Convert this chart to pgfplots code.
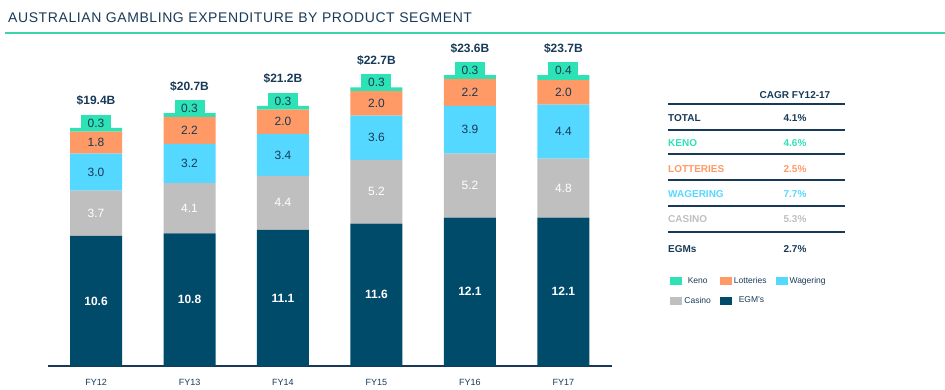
\documentclass[border=0pt]{standalone}
\usepackage{fontspec}
\setmainfont{Liberation Sans}
\newfontfamily\titlefont[LetterSpace=4.2]{Liberation Sans}
\usepackage{pgfplots}
\usepackage{pgfplotstable}
\pgfplotsset{compat=1.18}
\definecolor{egm}{RGB}{0,74,106}
\definecolor{casino}{RGB}{191,191,191}
\definecolor{wager}{RGB}{85,216,255}
\definecolor{lotto}{RGB}{255,153,102}
\definecolor{keno}{RGB}{45,226,180}
\definecolor{navy}{RGB}{24,58,88}
\definecolor{teal}{RGB}{60,212,172}
\pgfplotstableread{
x egm casino wager lotto keno tot
0 10.6 3.7 3.0 1.8 0.3 19.4
1 10.8 4.1 3.2 2.2 0.3 20.7
2 11.1 4.4 3.4 2.0 0.3 21.2
3 11.6 5.2 3.6 2.0 0.3 22.7
4 12.1 5.2 3.9 2.2 0.3 23.6
5 12.1 4.8 4.4 2.0 0.4 23.7
}\data
\pgfplotsset{
  common/.style={at={(48pt,23pt)}, anchor=south west,
    scale only axis, width=564pt, height=326pt,
    ymin=0, ymax=26.57, xmin=-0.514, xmax=5.52},
  lbl/.style={draw=none, mark=none, nodes near coords, point meta=explicit,
    nodes near coords={\pgfmathprintnumber[fixed,fixed zerofill,precision=1,assume math mode=true]{\pgfplotspointmeta}},
    every node near coord/.append style={anchor=center, font=\fontsize{12}{14}\selectfont, text=#1}},
}
\begin{document}
\begin{tikzpicture}
\path[use as bounding box] (0,0) rectangle (945pt,389pt);
\node[anchor=west, text=navy, font=\titlefont\fontsize{14}{16}\selectfont, inner sep=0pt] at (8pt,371pt) {AUSTRALIAN GAMBLING EXPENDITURE BY PRODUCT SEGMENT};
\draw[teal, line width=1.5pt] (5pt,356pt) -- (945pt,356pt);
\begin{axis}[
  common,
  ybar stacked, bar width=52pt,
  hide y axis, axis x line*=bottom,
  x axis line style={draw=navy, line width=1.2pt, -},
  xtick=data, xticklabels={FY12,FY13,FY14,FY15,FY16,FY17},
  major tick length=0pt,
  xticklabel style={font=\fontsize{9}{10}\selectfont, text=navy, yshift=-10pt},
  legend columns=3, reverse legend,
  legend style={draw=none, fill=none, at={(axis description cs:1.098,0.285)}, anchor=north west,
    font=\fontsize{8.5}{9}\selectfont, text=navy, row sep=8pt,
    /tikz/every even column/.append style={column sep=7pt}},
]
\addplot[fill=egm, draw=none,
  legend image code/.code={\fill[egm] (0pt,-4pt) rectangle (12pt,4pt);}] table[x=x,y=egm] {\data};
\addlegendentry{\ EGM's}
\addplot[fill=casino, draw=none,
  legend image code/.code={\fill[casino] (0pt,-4pt) rectangle (12pt,4pt);}] table[x=x,y=casino] {\data};
\addlegendentry{Casino}
\addplot[fill=wager, draw=none,
  legend image code/.code={\fill[wager] (0pt,-4pt) rectangle (12pt,4pt);}] table[x=x,y=wager] {\data};
\addlegendentry{Wagering}
\addplot[fill=lotto, draw=none,
  legend image code/.code={\fill[lotto] (0pt,-4pt) rectangle (12pt,4pt);}] table[x=x,y=lotto] {\data};
\addlegendentry{Lotteries}
\addplot[fill=keno, draw=none,
  legend image code/.code={\fill[keno] (0pt,-4pt) rectangle (12pt,4pt);}] table[x=x,y=keno] {\data};
\addlegendentry{Keno}
\end{axis}
\begin{axis}[common, hide axis]
\addplot[lbl=white, every node near coord/.append style={font=\bfseries\fontsize{12}{14}\selectfont}]
  table[x=x, y expr=\thisrow{egm}/2, meta=egm] {\data};
\addplot[lbl=white] table[x=x, y expr=\thisrow{egm}+\thisrow{casino}/2, meta=casino] {\data};
\addplot[lbl=navy] table[x=x, y expr=\thisrow{egm}+\thisrow{casino}+\thisrow{wager}/2, meta=wager] {\data};
\addplot[lbl=navy] table[x=x, y expr=\thisrow{egm}+\thisrow{casino}+\thisrow{wager}+\thisrow{lotto}/2, meta=lotto] {\data};
\addplot[lbl=navy, every node near coord/.append style={fill=keno, minimum width=30pt, minimum height=16pt, inner sep=1pt, yshift=5pt}]
  table[x=x, y expr=\thisrow{egm}+\thisrow{casino}+\thisrow{wager}+\thisrow{lotto}+\thisrow{keno}, meta=keno] {\data};
\addplot[lbl=navy, nodes near coords={\$\pgfmathprintnumber[fixed,fixed zerofill,precision=1,assume math mode=true]{\pgfplotspointmeta}B},
  every node near coord/.append style={font=\bfseries\fontsize{12}{14}\selectfont, yshift=27pt}]
  table[x=x, y expr=\thisrow{egm}+\thisrow{casino}+\thisrow{wager}+\thisrow{lotto}+\thisrow{keno}, meta=tot] {\data};
\end{axis}
% CAGR table
\begin{scope}[every node/.style={inner sep=0pt, font=\bfseries\fontsize{10}{11}\selectfont}]
\node[text=navy] at (795pt,294pt) {CAGR FY12-17};
\foreach \yy in {285,259,235,209,183,157} {\draw[navy, line width=1.2pt] (668pt,\yy pt) -- (845pt,\yy pt);}
\node[anchor=west, text=navy] at (668pt,271pt) {TOTAL};
\node[text=navy] at (795pt,271pt) {4.1\%};
\node[anchor=west, text=keno] at (668pt,246pt) {KENO};
\node[text=keno] at (795pt,246pt) {4.6\%};
\node[anchor=west, text=lotto] at (668pt,220pt) {LOTTERIES};
\node[text=lotto] at (795pt,220pt) {2.5\%};
\node[anchor=west, text=wager] at (668pt,195pt) {WAGERING};
\node[text=wager] at (795pt,195pt) {7.7\%};
\node[anchor=west, text=casino] at (668pt,170pt) {CASINO};
\node[text=casino] at (795pt,170pt) {5.3\%};
\node[anchor=west, text=navy] at (668pt,140pt) {EGMs};
\node[text=navy] at (795pt,140pt) {2.7\%};
\end{scope}
\end{tikzpicture}
\end{document}
